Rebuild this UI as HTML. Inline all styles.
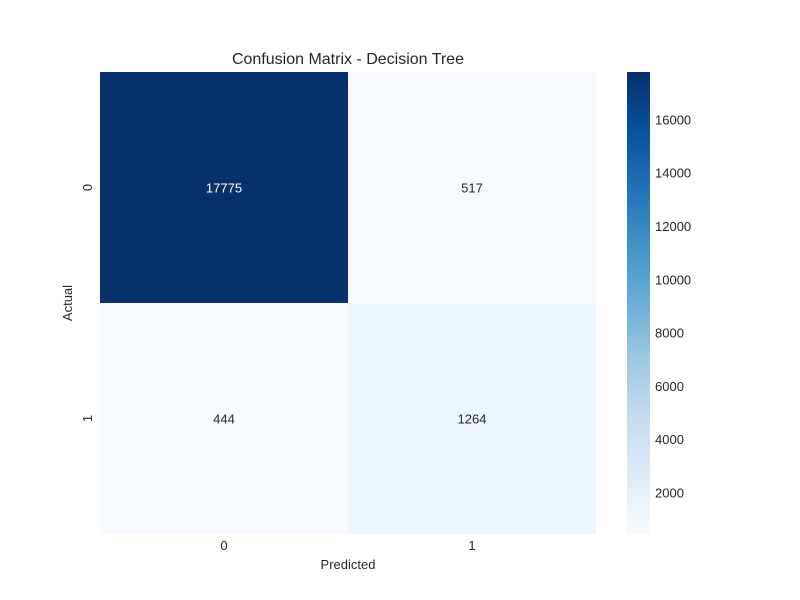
<!DOCTYPE html>
<html><head><meta charset="utf-8"><style>
body{margin:0;background:#fff;}
svg{display:block;font-family:"Liberation Sans",sans-serif;}
</style></head><body>
<svg id="chart" width="800" height="600">
<defs><linearGradient id="cbgrad" x1="0" y1="1" x2="0" y2="0">
<stop offset="0" stop-color="#f7fbff"/><stop offset="0.125" stop-color="#deebf7"/><stop offset="0.25" stop-color="#c6dbef"/><stop offset="0.375" stop-color="#9ecae1"/><stop offset="0.5" stop-color="#6baed6"/><stop offset="0.625" stop-color="#4292c6"/><stop offset="0.75" stop-color="#2171b5"/><stop offset="0.875" stop-color="#08519c"/><stop offset="1" stop-color="#08306b"/>
</linearGradient></defs>
<text x="348" y="64" text-anchor="middle" font-size="16" fill="#262626">Confusion Matrix - Decision Tree</text>
<text x="348" y="569" text-anchor="middle" font-size="13" fill="#262626">Predicted</text>
<text x="72" y="303" text-anchor="middle" font-size="13" fill="#262626" transform="rotate(-90 72 303)">Actual</text>
<g id="cells"></g>
<rect x="627" y="72" width="23" height="462" fill="url(#cbgrad)"/>
<g id="cbticks"></g>
</svg>
<script>
const rowLabels=["0","1"];
const colLabels=["0","1"];
const row0=[17775,517];
const row1=[444,1264];
const cbTicks=[2000,4000,6000,8000,10000,12000,14000,16000];
const NS="http://www.w3.org/2000/svg";
const matrix=[row0,row1];
const all=matrix.flat();
const vmin=Math.min(...all),vmax=Math.max(...all);
const X0=100,Y0=72,W=496,H=462;
const cw=W/colLabels.length,ch=H/rowLabels.length;
const stops=[[0,[247,251,255]],[0.125,[222,235,247]],[0.25,[198,219,239]],[0.375,[158,202,225]],[0.5,[107,174,214]],[0.625,[66,146,198]],[0.75,[33,113,181]],[0.875,[8,81,156]],[1,[8,48,107]]];
function color(v){let t=(v-vmin)/(vmax-vmin);t=Math.max(0,Math.min(1,t));
for(let i=1;i<stops.length;i++){if(t<=stops[i][0]){const a=stops[i-1],b=stops[i];const f=(t-a[0])/(b[0]-a[0]);const c=a[1].map((x,k)=>Math.round(x+(b[1][k]-x)*f));return `rgb(${c})`;}}return "rgb(8,48,107)";}
function cbY(v){return Y0+H-(v-vmin)/(vmax-vmin)*H;}
function el(tag,attrs,parent){const e=document.createElementNS(NS,tag);for(const k in attrs)e.setAttribute(k,attrs[k]);parent.appendChild(e);return e;}
const g=document.getElementById("cells");
const svg=document.getElementById("chart");
matrix.forEach((row,i)=>{row.forEach((v,j)=>{
const r=el("rect",{x:X0+j*cw,y:Y0+i*ch,width:cw,height:ch,fill:color(v)},g);


const t=el("text",{x:X0+j*cw+cw/2,y:Y0+i*ch+ch/2+5,"text-anchor":"middle","font-size":"13",fill:(v-vmin)/(vmax-vmin)>0.5?"#fff":"#262626"},g);
t.textContent=v;


});});
colLabels.forEach((l,j)=>{const t=el("text",{x:X0+j*cw+cw/2,y:550,"text-anchor":"middle","font-size":"13",fill:"#262626"},svg);t.textContent=l;

});
rowLabels.forEach((l,i)=>{const y=Y0+i*ch+ch/2;const t=el("text",{x:92,y:y,"text-anchor":"middle","font-size":"13",fill:"#262626",transform:`rotate(-90 92 ${y})`},svg);t.textContent=l;

});
const cb=document.getElementById("cbticks");
cbTicks.forEach(v=>{const t=el("text",{x:655,y:cbY(v)+5,"font-size":"13",fill:"#262626"},cb);t.textContent=v;

});
</script>
</body></html>
